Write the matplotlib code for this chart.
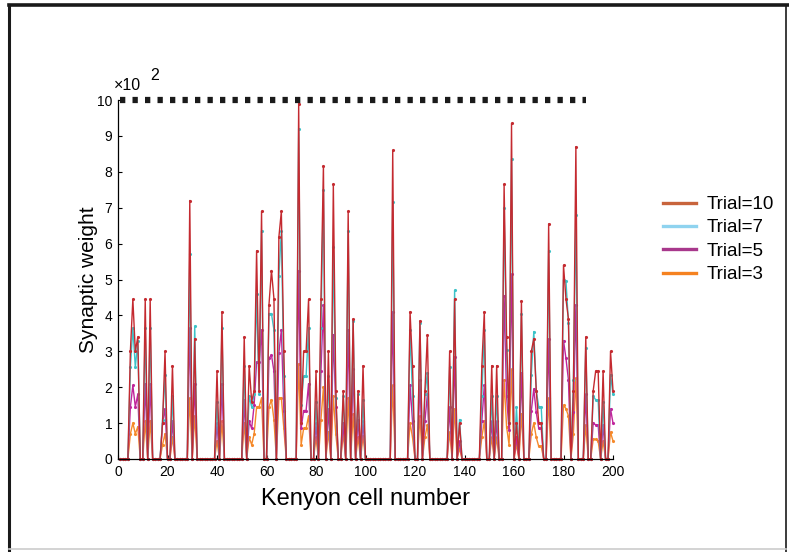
import numpy as np
import matplotlib
matplotlib.use("Agg")
import matplotlib.pyplot as plt
from matplotlib.lines import Line2D

plt.rcParams.update({
    'font.family': ['Liberation Sans', 'DejaVu Sans'],
    'font.size': 9.5,
})

# active Kenyon cells and their synaptic weights (x10^2) per trial; all other cells are 0
active_cells = [5, 6, 7, 8, 11, 13, 18, 19, 22, 29, 31, 40, 42, 51, 53, 54, 55, 56, 57, 58,
                61, 62, 63, 65, 66, 67, 73, 74, 75, 76, 77, 80, 82, 83, 85, 87, 88, 91, 93, 95,
                97, 99, 111, 118, 119, 122, 124, 125, 134, 136, 138, 147, 148, 151, 153, 156, 157, 158, 159, 161,
                163, 167, 168, 169, 170, 171, 174, 180, 181, 182, 184, 185, 189, 192, 193, 194, 196, 199, 200]

trial10 = [3.0, 4.45, 3.0, 3.4, 4.45, 4.45, 1.0, 3.0, 2.6, 7.2, 3.35, 2.45, 4.1, 3.4, 2.6, 1.6, 1.9, 5.8, 1.9, 6.9,
           4.3, 5.25, 4.47, 6.18, 6.9, 3.0, 9.9, 1.0, 3.0, 3.0, 4.45, 2.45, 4.45, 8.17, 3.0, 7.65, 1.9, 1.9, 6.9, 3.9,
           1.9, 2.6, 8.6, 4.1, 2.6, 3.85, 1.9, 3.45, 3.0, 4.45, 1.0, 2.6, 4.1, 2.6, 2.6, 7.65, 3.4, 1.0, 9.35, 1.0,
           4.4, 3.0, 3.35, 1.9, 1.0, 1.0, 6.55, 5.4, 4.45, 3.9, 1.9, 8.7, 3.4, 1.9, 2.45, 2.45, 2.45, 3.0, 1.9]

trial7 = [2.55, 3.65, 2.55, 3.3, 3.65, 3.65, 1.1, 2.35, 1.75, 5.7, 3.7, 1.6, 3.65, 2.6, 1.75, 1.45, 1.8, 4.6, 1.8, 6.35,
          4.05, 4.05, 3.6, 5.1, 6.35, 2.3, 9.2, 1.5, 2.3, 2.3, 3.65, 1.6, 3.65, 7.5, 2.3, 5.9, 1.7, 1.75, 6.35, 3.85,
          1.8, 1.65, 7.15, 3.6, 1.75, 3.8, 1.8, 2.4, 2.55, 4.7, 1.1, 1.75, 3.6, 1.75, 1.75, 7.0, 3.05, 1.0, 8.35, 1.45,
          4.05, 2.35, 3.55, 1.9, 1.45, 1.45, 5.8, 5.0, 4.95, 3.8, 2.2, 6.8, 3.1, 1.75, 1.65, 1.65, 1.6, 2.35, 1.8]

trial5 = [1.45, 2.05, 1.45, 1.8, 2.1, 2.1, 1.0, 1.4, 1.05, 3.65, 2.1, 1.0, 2.1, 1.65, 1.05, 0.85, 1.5, 2.7, 2.7, 3.6,
          2.8, 2.9, 2.45, 2.95, 3.6, 1.35, 5.25, 0.85, 1.35, 1.35, 2.1, 1.0, 2.45, 4.3, 1.4, 3.45, 1.45, 1.0, 3.6, 2.5,
          1.1, 1.05, 4.1, 2.05, 1.05, 2.2, 1.05, 1.8, 1.45, 2.85, 0.5, 1.05, 2.05, 1.05, 1.05, 4.55, 1.75, 0.8, 5.15, 0.6,
          2.4, 1.35, 1.95, 1.3, 0.85, 0.85, 3.35, 3.3, 2.8, 2.2, 1.3, 4.3, 1.8, 1.0, 0.95, 0.95, 0.95, 1.4, 1.0]

trial3 = [0.7, 1.0, 0.7, 0.9, 1.05, 1.05, 0.4, 0.7, 0.6, 1.7, 1.2, 0.5, 1.05, 1.0, 0.6, 0.4, 0.7, 1.45, 1.45, 1.7,
          1.45, 1.65, 1.1, 1.7, 1.7, 0.85, 2.65, 0.4, 0.85, 0.85, 1.2, 0.6, 1.1, 2.0, 0.75, 1.75, 0.7, 0.7, 1.7, 1.25,
          0.6, 0.65, 2.05, 1.0, 0.6, 1.2, 0.6, 0.95, 0.75, 1.4, 0.3, 0.6, 1.05, 0.6, 0.6, 2.2, 0.9, 0.4, 2.5, 0.4,
          1.25, 0.7, 1.0, 0.6, 0.35, 0.35, 1.7, 1.5, 1.4, 1.2, 0.7, 2.25, 0.95, 0.55, 0.55, 0.5, 0.5, 0.75, 0.5]

n_cells = 200
max_weight = 10
max_line_end = 189

labels = ['Trial=10', 'Trial=7', 'Trial=5', 'Trial=3']
line_colors = ['#c42a30', '#3cc3c8', '#c0259b', '#f5892a']
legend_colors = ['#c8643c', '#8fd3ef', '#a8388c', '#f58220']

cells = np.arange(1, n_cells + 1)


def full_profile(values):
    w = np.zeros(n_cells)
    w[np.array(active_cells) - 1] = values
    return w


fig = plt.figure(figsize=(7.89, 5.52), dpi=100)
ax = fig.add_axes([118 / 789, 1 - 459 / 552, 495 / 789, 359 / 552])

# draw the earliest trial first so the latest sits on top
for vals, col in zip([trial3, trial5, trial7, trial10], line_colors[::-1]):
    ax.plot(cells, full_profile(vals), color=col, linewidth=1.0,
            marker='.', markersize=2.5, clip_on=False)

# upper bound of the weights
ax.plot([1, max_line_end], [max_weight, max_weight], color='#1a1a1a', linewidth=4.5,
        linestyle=(0, (0.85, 1.15)), solid_capstyle='butt', dash_capstyle='butt', clip_on=False)

ax.set_xlim(0, 200)
ax.set_ylim(0, 10)
ax.set_xticks(np.arange(0, 201, 20))
ax.set_yticks(np.arange(0, 11, 1))
ax.tick_params(direction='in', length=3, width=0.8, labelsize=10, pad=4)
for side in ['top', 'right']:
    ax.spines[side].set_visible(False)
for side in ['left', 'bottom']:
    ax.spines[side].set_linewidth(0.9)

ax.set_xlabel('Kenyon cell number', fontsize=17, labelpad=7)
ax.set_ylabel('Synaptic weight', fontsize=15, labelpad=-1)

fig.text(114 / 789, 1 - 86 / 552, '×10', fontsize=11.5, va='center', ha='left')
fig.text(150 / 789, 1 - 75 / 552, '2', fontsize=11.5, va='center', ha='left')

handles = [Line2D([], [], color=c, linewidth=2.4) for c in legend_colors]
ax.legend(handles, labels, loc='upper left', bbox_to_anchor=(663 / 789, 1 - 196 / 552),
          bbox_transform=fig.transFigure, frameon=False, fontsize=13.5, handlelength=1.75,
          handletextpad=0.6, labelspacing=0.33, borderpad=0, borderaxespad=0)

# outer frame
fig.add_artist(Line2D([9 / 789, 9 / 789], [0, 1 - 5 / 552], color='#1a1a1a', linewidth=2.2))
fig.add_artist(Line2D([9 / 789, 1], [1 - 5 / 552, 1 - 5 / 552], color='#1a1a1a', linewidth=2.6))
fig.add_artist(Line2D([786 / 789, 786 / 789], [0, 1 - 5 / 552], color='#1a1a1a', linewidth=1.2))
fig.add_artist(Line2D([9 / 789, 786 / 789], [3 / 552, 3 / 552], color='#cccccc', linewidth=1.2))

fig.savefig('out.png', dpi=100)
